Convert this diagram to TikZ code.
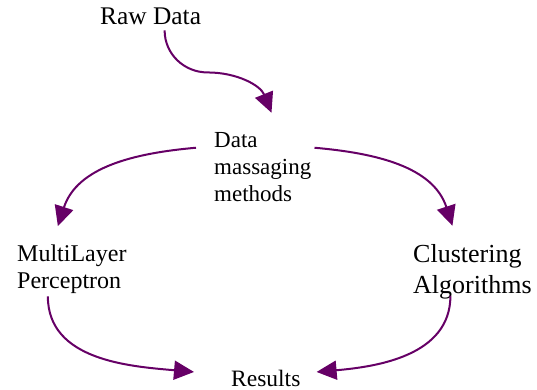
\documentclass[tikz,border=0pt]{standalone}
\usepackage{fontspec}
\setmainfont{Liberation Serif}
\usepackage{tikz}
\usetikzlibrary{arrows.meta,calc}
\definecolor{myplum}{RGB}{102,0,102}
\tikzset{
    line/.style = {-{Triangle[length=20pt,width=19pt]}, line width=2pt, draw=myplum},
    lbl/.style  = {inner sep=0pt, anchor=base west, align=left},
}

\begin{document}
\begin{tikzpicture}[x=1pt, y=-1pt]
    \useasboundingbox (0,0) rectangle (537,390);
    % Nodes (base = last line)
    \node[lbl, font=\fontsize{25.4}{30}\selectfont] (raw) at (100,25) {Raw Data};
    \node[lbl, font=\fontsize{23}{27}\selectfont] (massage) at (214,201) {Data\\ massaging\\ methods};
    \node[lbl, font=\fontsize{24}{27}\selectfont] (mlp) at (17,288) {MultiLayer\\ Perceptron};
    \node[lbl, font=\fontsize{26}{31}\selectfont] (cluster) at (413,293) {Clustering\\ Algorithms};
    \node[lbl, font=\fontsize{23.5}{28}\selectfont] (results) at (231,386) {Results};

    % Arrows
    \coordinate (bend) at ($(raw.south)+(57,47)$); % where the S-curve flattens
    \draw[line] ($(raw.south)+(14,5)$) to[out=-90,in=180] (bend)
        to[out=0,in=112] ($(massage.north east)+(-40,-19)$);
    \draw[line] ($(massage.north west)+(-18,16)$) to[out=185,in=72] ($(mlp.north)+(-14,-18)$);
    \draw[line] ($(massage.north east)+(3,16)$) to[out=-5,in=108] ($(cluster.north)+(-20,-18)$);
    \draw[line] ($(mlp.south)+(-24,3)$) to[out=-90,in=175] ($(results.west)+(-37,-6)$);
    \draw[line] ($(cluster.south)+(-22,-3)$) to[out=-90,in=5] ($(results.east)+(16,-6)$);
\end{tikzpicture}
\end{document}
